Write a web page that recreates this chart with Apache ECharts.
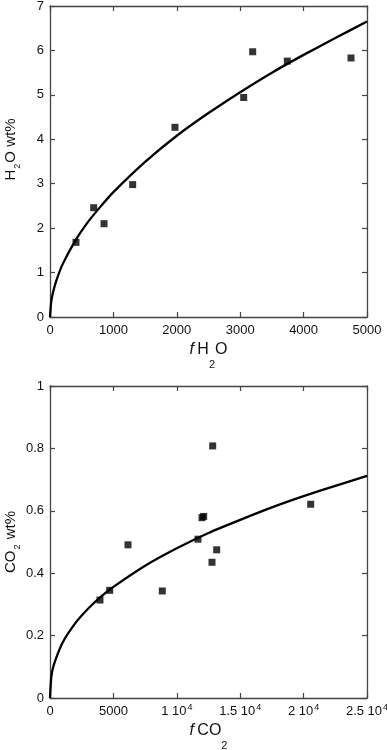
<!DOCTYPE html>
<html>
<head>
<meta charset="utf-8">
<script src="https://cdn.jsdelivr.net/npm/echarts@6/dist/echarts.min.js"></script>
<style>
  html, body { margin: 0; padding: 0; background: #fff; }
  #chart { width: 387px; height: 750px; }
</style>
</head>
<body>
<div id="chart"></div>
<script>
// top panel: H2O
var h2oFug = [410, 689, 852, 1304, 1971, 3055, 3197, 3743, 4748];
var h2oWt = [1.68, 2.46, 2.10, 2.98, 4.27, 4.94, 5.97, 5.76, 5.83];
var h2oCurveFug = [0, 20, 50, 100, 200, 400, 600, 800, 1000, 1500, 2000, 2500, 3000, 3500, 4000, 4500, 5000];
var h2oCurveWt = [0, 0.35, 0.57, 0.82, 1.19, 1.72, 2.14, 2.49, 2.81, 3.49, 4.08, 4.59, 5.06, 5.50, 5.90, 6.28, 6.65];
var h2oXTicks = ['0', '1000', '2000', '3000', '4000', '5000'];

// bottom panel: CO2
var co2Fug = [3943, 4708, 6151, 8857, 11672, 11987, 12120, 12776, 13146, 12830, 20560];
var co2Wt = [0.314, 0.345, 0.491, 0.343, 0.509, 0.578, 0.582, 0.435, 0.475, 0.808, 0.621];
var co2CurveFug = [0, 100, 300, 1000, 2000, 3000, 4000, 5000, 7500, 10000, 12500, 15000, 17500, 20000, 22500, 25000];
var co2CurveWt = [0, 0.066, 0.106, 0.178, 0.240, 0.286, 0.324, 0.356, 0.424, 0.480, 0.529, 0.571, 0.611, 0.647, 0.680, 0.712];
var co2XTicks = ['0', '5000', '1 10^4', '1.5 10^4', '2 10^4', '2.5 10^4'];

var FONT = 'Liberation Sans';
var frameColor = '#444';
var ink = '#111';

// x axis titles: subscript sits well below the baseline
var xNameRich = {
  n: { fontFamily: FONT, fontSize: 16, color: ink, lineHeight: 20, verticalAlign: 'top' },
  i: { fontFamily: FONT, fontSize: 16, color: ink, fontStyle: 'italic', lineHeight: 20, verticalAlign: 'top' },
  s: { fontFamily: FONT, fontSize: 11, color: ink, lineHeight: 12, verticalAlign: 'top', padding: [17, 0, 0, 0] }
};
// y axis titles
var yNameRich = {
  n: { fontFamily: FONT, fontSize: 15, color: ink, lineHeight: 22 },
  s: { fontFamily: FONT, fontSize: 9, color: ink, verticalAlign: 'bottom', lineHeight: 10, padding: [0, 1, 0, 1] }
};
var tickRich = {
  t: { fontFamily: FONT, fontSize: 13, color: ink, lineHeight: 17 },
  sup: { fontFamily: FONT, fontSize: 9, color: ink, verticalAlign: 'top', lineHeight: 9, padding: [0, 0, 0, 1] }
};

function zip(a, b) {
  return a.map(function (v, i) { return [v, b[i]]; });
}

function frameBase(grid, max, interval) {
  return {
    type: 'value', gridIndex: grid, min: 0, max: max, interval: interval,
    axisLine: { show: true, onZero: false, lineStyle: { color: frameColor, width: 1.3 } },
    axisTick: { show: true, inside: true, length: 5, lineStyle: { color: frameColor, width: 1.2 } },
    splitLine: { show: false }
  };
}

function xAxes(grid, max, interval, labels, name) {
  var bottom = Object.assign(frameBase(grid, max, interval), {
    position: 'bottom',
    name: name, nameLocation: 'middle', nameGap: 25, nameMoveOverlap: false,
    nameTextStyle: { rich: xNameRich },
    axisLabel: {
      margin: 5,
      formatter: function (v) {
        var s = labels[Math.round(v / interval)];
        var p = s.split('^');
        return p.length > 1 ? '{t|' + p[0] + '}{sup|' + p[1] + '}' : '{t|' + s + '}';
      },
      rich: tickRich
    }
  });
  var top = Object.assign(frameBase(grid, max, interval), { position: 'top', axisLabel: { show: false } });
  return [bottom, top];
}

function yAxes(grid, max, interval, name, shift) {
  var left = Object.assign(frameBase(grid, max, interval), {
    position: 'left',
    name: name, nameLocation: 'middle', nameGap: 28, nameMoveOverlap: false,
    nameTextStyle: { rich: yNameRich, padding: [0, 0, 0, shift] },
    axisLabel: { margin: 6, fontFamily: FONT, fontSize: 13, color: ink }
  });
  var right = Object.assign(frameBase(grid, max, interval), { position: 'right', axisLabel: { show: false } });
  return [left, right];
}

var chart = echarts.init(document.getElementById('chart'));
chart.setOption({
  backgroundColor: '#fff',
  animation: false,
  grid: [
    { left: 50, right: 20, top: 6, height: 311, outerBoundsMode: 'none', containLabel: false },
    { left: 50, right: 20, top: 386, height: 312, outerBoundsMode: 'none', containLabel: false }
  ],
  xAxis: xAxes(0, 5000, 1000, h2oXTicks, '{i|f} {n|H}{s|2}{n|O}')
    .concat(xAxes(1, 25000, 5000, co2XTicks, '{i|f} {n|CO}{s|2}')),
  yAxis: yAxes(0, 7, 1, '{n|H}{s|2}{n|O wt%}', 24)
    .concat(yAxes(1, 1, 0.2, '{n|CO}{s|2}{n| wt%}', 0)),
  series: [
    {
      type: 'line', xAxisIndex: 0, yAxisIndex: 0,
      data: zip(h2oCurveFug, h2oCurveWt), smooth: 0.2, symbol: 'none',
      lineStyle: { color: '#000', width: 2.3 }
    },
    {
      type: 'scatter', xAxisIndex: 0, yAxisIndex: 0,
      data: zip(h2oFug, h2oWt), symbol: 'rect', symbolSize: 7,
      itemStyle: { color: '#000' }
    },
    {
      type: 'line', xAxisIndex: 2, yAxisIndex: 2,
      data: zip(co2CurveFug, co2CurveWt), smooth: 0.2, symbol: 'none',
      lineStyle: { color: '#000', width: 2.3 }
    },
    {
      type: 'scatter', xAxisIndex: 2, yAxisIndex: 2,
      data: zip(co2Fug, co2Wt), symbol: 'rect', symbolSize: 7,
      itemStyle: { color: '#000' }
    }
  ]
});
</script>
</body>
</html>
